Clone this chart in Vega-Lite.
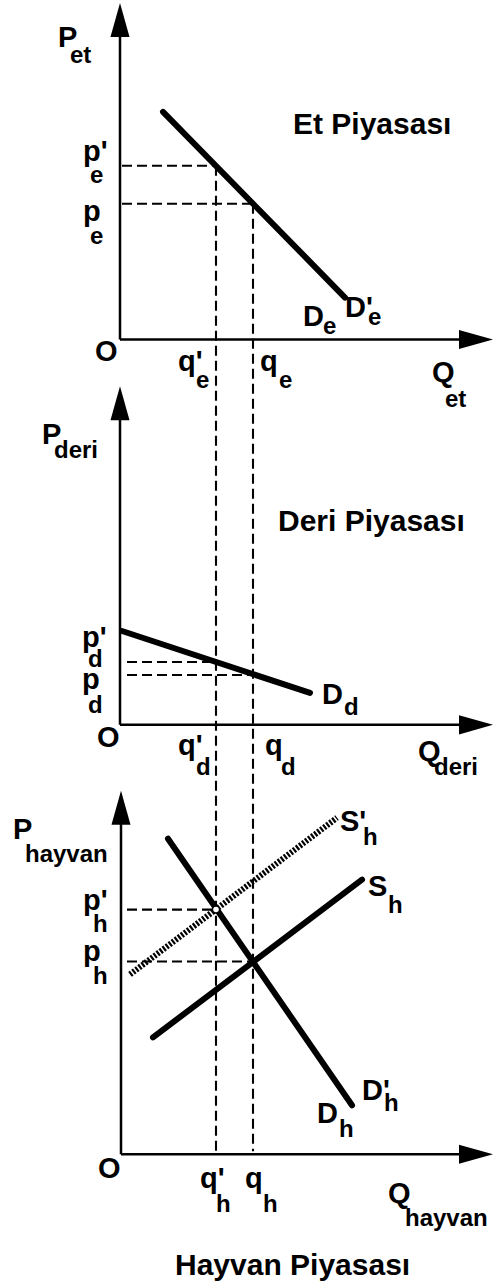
{
  "$schema": "https://vega.github.io/schema/vega-lite/v6.json",
  "width": 493,
  "height": 1281,
  "autosize": {"type": "fit", "contains": "padding"},
  "padding": 0,
  "background": "white",
  "config": {"view": {"stroke": null}},
  "datasets": {
    "lines": [
      {"id": "a1", "k": "axis", "o": 1, "x": 0, "y": 941},
      {"id": "a1", "k": "axis", "o": 2, "x": 0, "y": 1250},
      {"id": "a2", "k": "axis", "o": 1, "x": 0, "y": 941},
      {"id": "a2", "k": "axis", "o": 2, "x": 345, "y": 941},
      {"id": "a3", "k": "axis", "o": 1, "x": 0, "y": 555},
      {"id": "a3", "k": "axis", "o": 2, "x": 0, "y": 862},
      {"id": "a4", "k": "axis", "o": 1, "x": 0, "y": 555},
      {"id": "a4", "k": "axis", "o": 2, "x": 345, "y": 555},
      {"id": "a5", "k": "axis", "o": 1, "x": 1, "y": 125},
      {"id": "a5", "k": "axis", "o": 2, "x": 1, "y": 457},
      {"id": "a6", "k": "axis", "o": 1, "x": 1, "y": 125},
      {"id": "a6", "k": "axis", "o": 2, "x": 345, "y": 125},
      {"id": "De", "k": "curve", "o": 1, "x": 43, "y": 1169},
      {"id": "De", "k": "curve", "o": 2, "x": 225, "y": 983},
      {"id": "Dd", "k": "curve", "o": 1, "x": 2, "y": 649},
      {"id": "Dd", "k": "curve", "o": 2, "x": 190, "y": 587},
      {"id": "Dh", "k": "curve", "o": 1, "x": 48, "y": 441},
      {"id": "Dh", "k": "curve", "o": 2, "x": 232, "y": 174},
      {"id": "Sh", "k": "curve", "o": 1, "x": 33, "y": 242},
      {"id": "Sh", "k": "curve", "o": 2, "x": 242, "y": 400},
      {"id": "Sh2", "k": "hatch", "o": 1, "x": 10, "y": 305},
      {"id": "Sh2", "k": "hatch", "o": 2, "x": 217, "y": 462},
      {"id": "h1", "k": "dash", "o": 1, "x": 2, "y": 1115},
      {"id": "h1", "k": "dash", "o": 2, "x": 96, "y": 1115},
      {"id": "v1", "k": "dash", "o": 1, "x": 96, "y": 1115},
      {"id": "v1", "k": "dash", "o": 2, "x": 96, "y": 128},
      {"id": "h2", "k": "dash", "o": 1, "x": 2, "y": 1077},
      {"id": "h2", "k": "dash", "o": 2, "x": 133, "y": 1077},
      {"id": "v2", "k": "dash", "o": 1, "x": 133, "y": 1077},
      {"id": "v2", "k": "dash", "o": 2, "x": 133, "y": 128},
      {"id": "h3", "k": "dash", "o": 1, "x": 7, "y": 618},
      {"id": "h3", "k": "dash", "o": 2, "x": 96, "y": 618},
      {"id": "h4", "k": "dash", "o": 1, "x": 7, "y": 605},
      {"id": "h4", "k": "dash", "o": 2, "x": 133, "y": 605},
      {"id": "h5", "k": "dash", "o": 1, "x": 7, "y": 370},
      {"id": "h5", "k": "dash", "o": 2, "x": 96, "y": 370},
      {"id": "h6", "k": "dash", "o": 1, "x": 7, "y": 318},
      {"id": "h6", "k": "dash", "o": 2, "x": 133, "y": 318}
    ],
    "arrows": [
      {"dir": "up", "x": 0, "y": 1261},
      {"dir": "right", "x": 356, "y": 941},
      {"dir": "up", "x": 0, "y": 877},
      {"dir": "right", "x": 356, "y": 555},
      {"dir": "up", "x": 1, "y": 472},
      {"dir": "right", "x": 356, "y": 125}
    ],
    "eq": [
      {"x": 96, "y": 370}
    ],
    "labels": [
      {"role": "main", "t": "P", "x": -62, "y": 1234},
      {"role": "sub", "t": "et", "x": -50, "y": 1218},
      {"role": "main", "t": "p'", "x": -37, "y": 1120},
      {"role": "sub", "t": "e", "x": -30, "y": 1098},
      {"role": "main", "t": "p", "x": -37, "y": 1060},
      {"role": "sub", "t": "e", "x": -30, "y": 1037},
      {"role": "main", "t": "O", "x": -25, "y": 919},
      {"role": "main", "t": "q'", "x": 58, "y": 909},
      {"role": "sub", "t": "e", "x": 76, "y": 892},
      {"role": "main", "t": "q", "x": 140, "y": 909},
      {"role": "sub", "t": "e", "x": 159, "y": 892},
      {"role": "main", "t": "Q", "x": 312, "y": 898},
      {"role": "sub", "t": "et", "x": 325, "y": 873},
      {"role": "main", "t": "D", "x": 183, "y": 954},
      {"role": "sub", "t": "e", "x": 203, "y": 946},
      {"role": "main", "t": "D'", "x": 225, "y": 964},
      {"role": "sub", "t": "e", "x": 248, "y": 955},
      {"role": "title", "t": "Et Piyasası", "x": 173, "y": 1147},
      {"role": "main", "t": "P", "x": -78, "y": 836},
      {"role": "sub", "t": "deri", "x": -66, "y": 822},
      {"role": "title", "t": "Deri Piyasası", "x": 158, "y": 749},
      {"role": "main", "t": "p'", "x": -38, "y": 633},
      {"role": "sub", "t": "d", "x": -32, "y": 613},
      {"role": "main", "t": "p", "x": -38, "y": 591},
      {"role": "sub", "t": "d", "x": -32, "y": 567},
      {"role": "main", "t": "O", "x": -23, "y": 533},
      {"role": "main", "t": "q'", "x": 58, "y": 525},
      {"role": "sub", "t": "d", "x": 76, "y": 505},
      {"role": "main", "t": "q", "x": 145, "y": 525},
      {"role": "sub", "t": "d", "x": 161, "y": 505},
      {"role": "main", "t": "Q", "x": 298, "y": 519},
      {"role": "sub", "t": "deri", "x": 314, "y": 505},
      {"role": "main", "t": "D", "x": 202, "y": 576},
      {"role": "sub", "t": "d", "x": 224, "y": 565},
      {"role": "main", "t": "P", "x": -107, "y": 441},
      {"role": "sub", "t": "hayvan", "x": -95, "y": 418},
      {"role": "main", "t": "p'", "x": -37, "y": 370},
      {"role": "sub", "t": "h", "x": -27, "y": 348},
      {"role": "main", "t": "p", "x": -37, "y": 318},
      {"role": "sub", "t": "h", "x": -27, "y": 295},
      {"role": "main", "t": "O", "x": -22, "y": 101},
      {"role": "main", "t": "q'", "x": 80, "y": 91},
      {"role": "sub", "t": "h", "x": 96, "y": 67},
      {"role": "main", "t": "q", "x": 125, "y": 91},
      {"role": "sub", "t": "h", "x": 143, "y": 67},
      {"role": "main", "t": "Q", "x": 268, "y": 76},
      {"role": "sub", "t": "hayvan", "x": 285, "y": 53},
      {"role": "main", "t": "S'", "x": 220, "y": 449},
      {"role": "sub", "t": "h", "x": 243, "y": 435},
      {"role": "main", "t": "S", "x": 248, "y": 384},
      {"role": "sub", "t": "h", "x": 268, "y": 367},
      {"role": "main", "t": "D'", "x": 242, "y": 179},
      {"role": "sub", "t": "h", "x": 264, "y": 168},
      {"role": "main", "t": "D", "x": 197, "y": 156},
      {"role": "sub", "t": "h", "x": 219, "y": 142},
      {"role": "title", "t": "Hayvan Piyasası", "x": 55, "y": 4}
    ]
  },
  "encoding": {
    "x": {"field": "x", "type": "quantitative", "scale": {"domain": [-120, 373], "nice": false, "zero": false}, "axis": null},
    "y": {"field": "y", "type": "quantitative", "scale": {"domain": [0, 1281], "nice": false, "zero": false}, "axis": null}
  },
  "layer": [
    {
      "data": {"name": "lines"},
      "transform": [{"filter": "datum.k === 'dash'"}],
      "mark": {"type": "line", "color": "black", "strokeWidth": 2.1, "strokeDash": [10, 5]},
      "encoding": {"detail": {"field": "id"}, "order": {"field": "o"}}
    },
    {
      "data": {"name": "lines"},
      "transform": [{"filter": "datum.k === 'axis'"}],
      "mark": {"type": "line", "color": "black", "strokeWidth": 2.5},
      "encoding": {"detail": {"field": "id"}, "order": {"field": "o"}}
    },
    {
      "data": {"name": "lines"},
      "transform": [{"filter": "datum.k === 'hatch'"}],
      "mark": {"type": "line", "color": "black", "strokeWidth": 6, "strokeDash": [2.2, 1.6]},
      "encoding": {"detail": {"field": "id"}, "order": {"field": "o"}}
    },
    {
      "data": {"name": "lines"},
      "transform": [{"filter": "datum.k === 'curve'"}],
      "mark": {"type": "line", "color": "black", "strokeWidth": 6, "strokeCap": "round"},
      "encoding": {"detail": {"field": "id"}, "order": {"field": "o"}}
    },
    {
      "data": {"name": "arrows"},
      "transform": [{"filter": "datum.dir === 'up'"}],
      "mark": {"type": "point", "shape": "M0,-1L0.56,1L-0.56,1Z", "filled": true, "color": "black", "size": 1156, "opacity": 1}
    },
    {
      "data": {"name": "arrows"},
      "transform": [{"filter": "datum.dir === 'right'"}],
      "mark": {"type": "point", "shape": "M1,0L-1,0.56L-1,-0.56Z", "filled": true, "color": "black", "size": 1156, "opacity": 1}
    },
    {
      "data": {"name": "eq"},
      "mark": {"type": "point", "shape": "circle", "filled": true, "fill": "white", "stroke": "black", "strokeWidth": 1.5, "size": 50, "opacity": 1}
    },
    {
      "data": {"name": "labels"},
      "transform": [{"filter": "datum.role === 'main'"}],
      "mark": {"type": "text", "align": "left", "baseline": "alphabetic", "font": "Liberation Sans", "fontWeight": "bold", "fontSize": 29, "color": "black"},
      "encoding": {"text": {"field": "t"}}
    },
    {
      "data": {"name": "labels"},
      "transform": [{"filter": "datum.role === 'sub'"}],
      "mark": {"type": "text", "align": "left", "baseline": "alphabetic", "font": "Liberation Sans", "fontWeight": "bold", "fontSize": 24, "color": "black"},
      "encoding": {"text": {"field": "t"}}
    },
    {
      "data": {"name": "labels"},
      "transform": [{"filter": "datum.role === 'title'"}],
      "mark": {"type": "text", "align": "left", "baseline": "alphabetic", "font": "Liberation Sans", "fontWeight": "bold", "fontSize": 30, "color": "black"},
      "encoding": {"text": {"field": "t"}}
    }
  ]
}
